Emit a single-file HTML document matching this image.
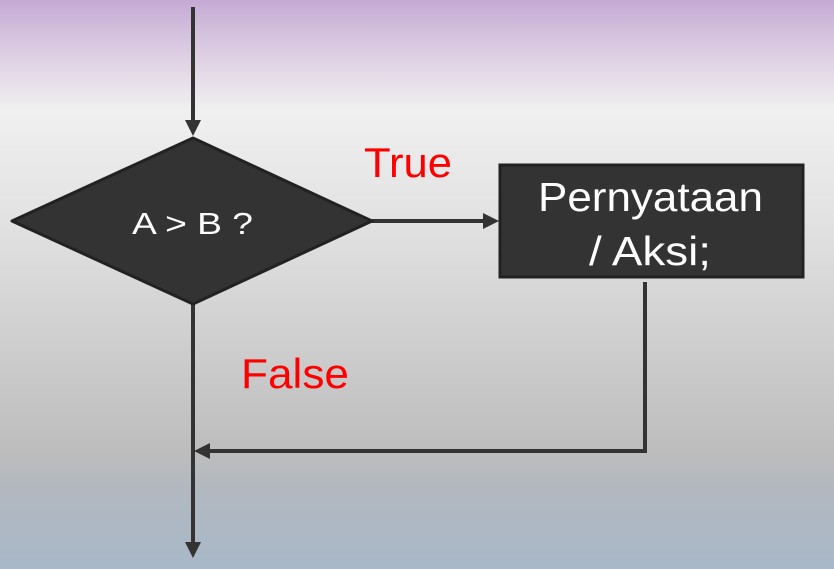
<!DOCTYPE html>
<html><head><style>
html,body{margin:0;padding:0;width:834px;height:569px;overflow:hidden}
body{background:linear-gradient(to bottom,#c4aad4 0px,#dccce2 50px,#f0f0f0 110px,#e2e2e2 220px,#d2d2d2 320px,#bdbdbd 450px,#b2b8c0 490px,#a8b8c8 569px)}
svg{position:absolute;left:0;top:0}
</style></head><body>
<svg width="834" height="569" viewBox="0 0 834 569">
<g stroke="#333" stroke-width="4" fill="none">
<line x1="193" y1="7" x2="193" y2="124"/>
<line x1="372" y1="221" x2="486" y2="221"/>
<polyline points="645,282 645,451 208,451"/>
<line x1="193" y1="304" x2="193" y2="544"/>
</g>
<g fill="#333">
<polygon points="185,120 201,120 193,136"/>
<polygon points="483,213 483,229 499,221"/>
<polygon points="210,443 210,459 194,451"/>
<polygon points="185,542 201,542 193,558"/>
</g>
<polygon points="193,138 372,221 193,304 12,221" fill="#333" stroke="#222" stroke-width="3" stroke-linejoin="round"/>
<rect x="500" y="165" width="303" height="112" fill="#333" stroke="#222" stroke-width="3"/>
<g font-family="Liberation Sans, sans-serif" fill="#fff">
<text x="132" y="234" font-size="31" textLength="121" lengthAdjust="spacingAndGlyphs">A &gt; B ?</text>
<text x="538" y="211" font-size="41" textLength="225" lengthAdjust="spacingAndGlyphs">Pernyataan</text>
<text x="589" y="265" font-size="41" textLength="122" lengthAdjust="spacingAndGlyphs">/ Aksi;</text>
</g>
<g font-family="Liberation Sans, sans-serif" fill="#ff0000">
<text x="364" y="177" font-size="42" textLength="88" lengthAdjust="spacingAndGlyphs">True</text>
<text x="241" y="388" font-size="42" textLength="108" lengthAdjust="spacingAndGlyphs">False</text>
</g>
</svg>
</body></html>
